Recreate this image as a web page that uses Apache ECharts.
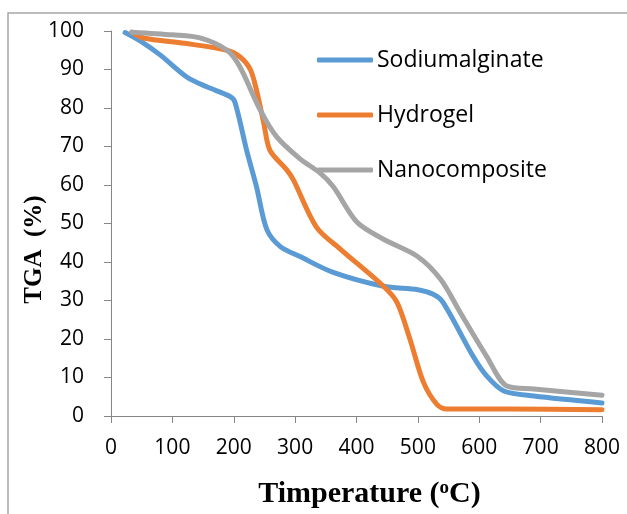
<!DOCTYPE html>
<html>
<head>
<meta charset="utf-8">
<script src="https://cdn.jsdelivr.net/npm/echarts@6/dist/echarts.min.js"></script>
<style>
  html, body { margin: 0; padding: 0; background: #fff; }
  #chart { width: 627px; height: 514px; }
</style>
</head>
<body>
<div id="chart"></div>
<script>
// 시리즈 이름
const seriesNames = ["Sodiumalginate", "Hydrogel", "Nanocomposite"];

// [온도, TGA%] 값
const sodiumAlginate = [
  [23, 99.6], [50, 97.2], [80, 93.8], [124, 88], [156, 85.5], [194, 83], [202, 81.5],
  [221, 69], [237, 59.6], [254, 48.4], [276, 44], [308, 41.4], [362, 37.3],
  [444, 33.7], [500, 32.8], [525, 31.6], [541, 29.5], [590, 15.5], [612, 10.4],
  [640, 6.5], [689, 5.2], [800, 3.4]
];
const hydrogel = [
  [34, 99.7], [53, 98.2], [120, 96.8], [189, 95], [210, 93.3], [227, 90], [237, 84.7],
  [249, 76], [259, 69], [286, 64], [297, 61.4], [335, 49], [374, 43.3],
  [444, 33.7], [466, 29.5], [487, 20], [509, 8.8], [531, 3], [547, 1.8],
  [650, 1.8], [800, 1.6]
];
const nanocomposite = [
  [34, 99.7], [100, 99], [145, 98.2], [189, 95], [210, 90.7], [243, 79.5], [270, 72.5],
  [308, 66.8], [340, 63.2], [362, 59.6], [401, 50.3], [444, 45.9], [499, 41.5],
  [537, 35.5], [569, 26.9], [612, 15.5], [645, 7.8], [689, 7], [800, 5.4]
];

const colors = ["#5B9BD5", "#ED7D31", "#A5A5A5"];

const chart = echarts.init(document.getElementById("chart"), null, { renderer: "canvas" });

const makeSeries = (name, data, color) => ({
  name: name,
  type: "line",
  data: data,
  smooth: 0.3,
  showSymbol: false,
  symbol: "none",
  animation: false,
  lineStyle: { width: 5, color: color, cap: "round", join: "round" },
  itemStyle: { color: color },
});

const option = {
  backgroundColor: "#fff",
  graphic: [
    {
      type: "rect",
      shape: { x: 8, y: 13, width: 700, height: 600 },
      style: { fill: "none", stroke: "#a6a6a6", lineWidth: 1.5 },
      silent: true,
      z: -1,
    },
  ],
  grid: { left: 111, right: 25, top: 31, bottom: 97 },
  legend: {
    orient: "vertical",
    left: 317,
    top: 46,
    padding: 0,
    itemGap: 27,
    itemWidth: 56,
    itemHeight: 5,
    icon: "roundRect",
    data: seriesNames,
    textStyle: {
      fontFamily: "Open Sans",
      fontSize: 23,
      color: "#000",
      lineHeight: 28,
      padding: [0, 0, 0, -1],
    },
  },
  xAxis: {
    type: "value",
    min: 0,
    max: 800,
    interval: 100,
    name: "Timperature ({sup|o}C)",
    nameLocation: "middle",
    nameGap: 63,
    nameMoveOverlap: false,
    nameTextStyle: {
      fontFamily: "Liberation Serif",
      fontWeight: "bold",
      fontSize: 30,
      color: "#000",
      padding: [0, 0, 0, 26],
      rich: {
        sup: {
          fontFamily: "Liberation Serif",
          fontWeight: "bold",
          fontSize: 19,
          color: "#000",
          verticalAlign: "top",
          padding: [0, 0, 10, 0],
        },
      },
    },
    axisLine: { show: true, lineStyle: { color: "#868686", width: 1 } },
    axisTick: { show: true, inside: false, length: 7, lineStyle: { color: "#868686" } },
    axisLabel: {
      fontFamily: "Open Sans",
      fontSize: 21,
      color: "#000",
      margin: 22,
    },
    splitLine: { show: false },
  },
  yAxis: {
    type: "value",
    min: 0,
    max: 100,
    interval: 10,
    name: "TGA  (%)",
    nameLocation: "middle",
    nameGap: 64,
    nameMoveOverlap: false,
    nameTextStyle: {
      fontFamily: "Liberation Serif",
      fontWeight: "bold",
      fontSize: 25,
      color: "#000",
      padding: [0, 52, 0, 0],
    },
    axisLine: { show: true, lineStyle: { color: "#868686", width: 1 } },
    axisTick: { show: true, inside: false, length: 7, lineStyle: { color: "#868686" } },
    axisLabel: {
      fontFamily: "Open Sans",
      fontSize: 21,
      color: "#000",
      margin: 27,
    },
    splitLine: { show: false },
  },
  series: [
    makeSeries(seriesNames[0], sodiumAlginate, colors[0]),
    makeSeries(seriesNames[1], hydrogel, colors[1]),
    makeSeries(seriesNames[2], nanocomposite, colors[2]),
  ],
};

chart.setOption(option);
</script>
</body>
</html>
